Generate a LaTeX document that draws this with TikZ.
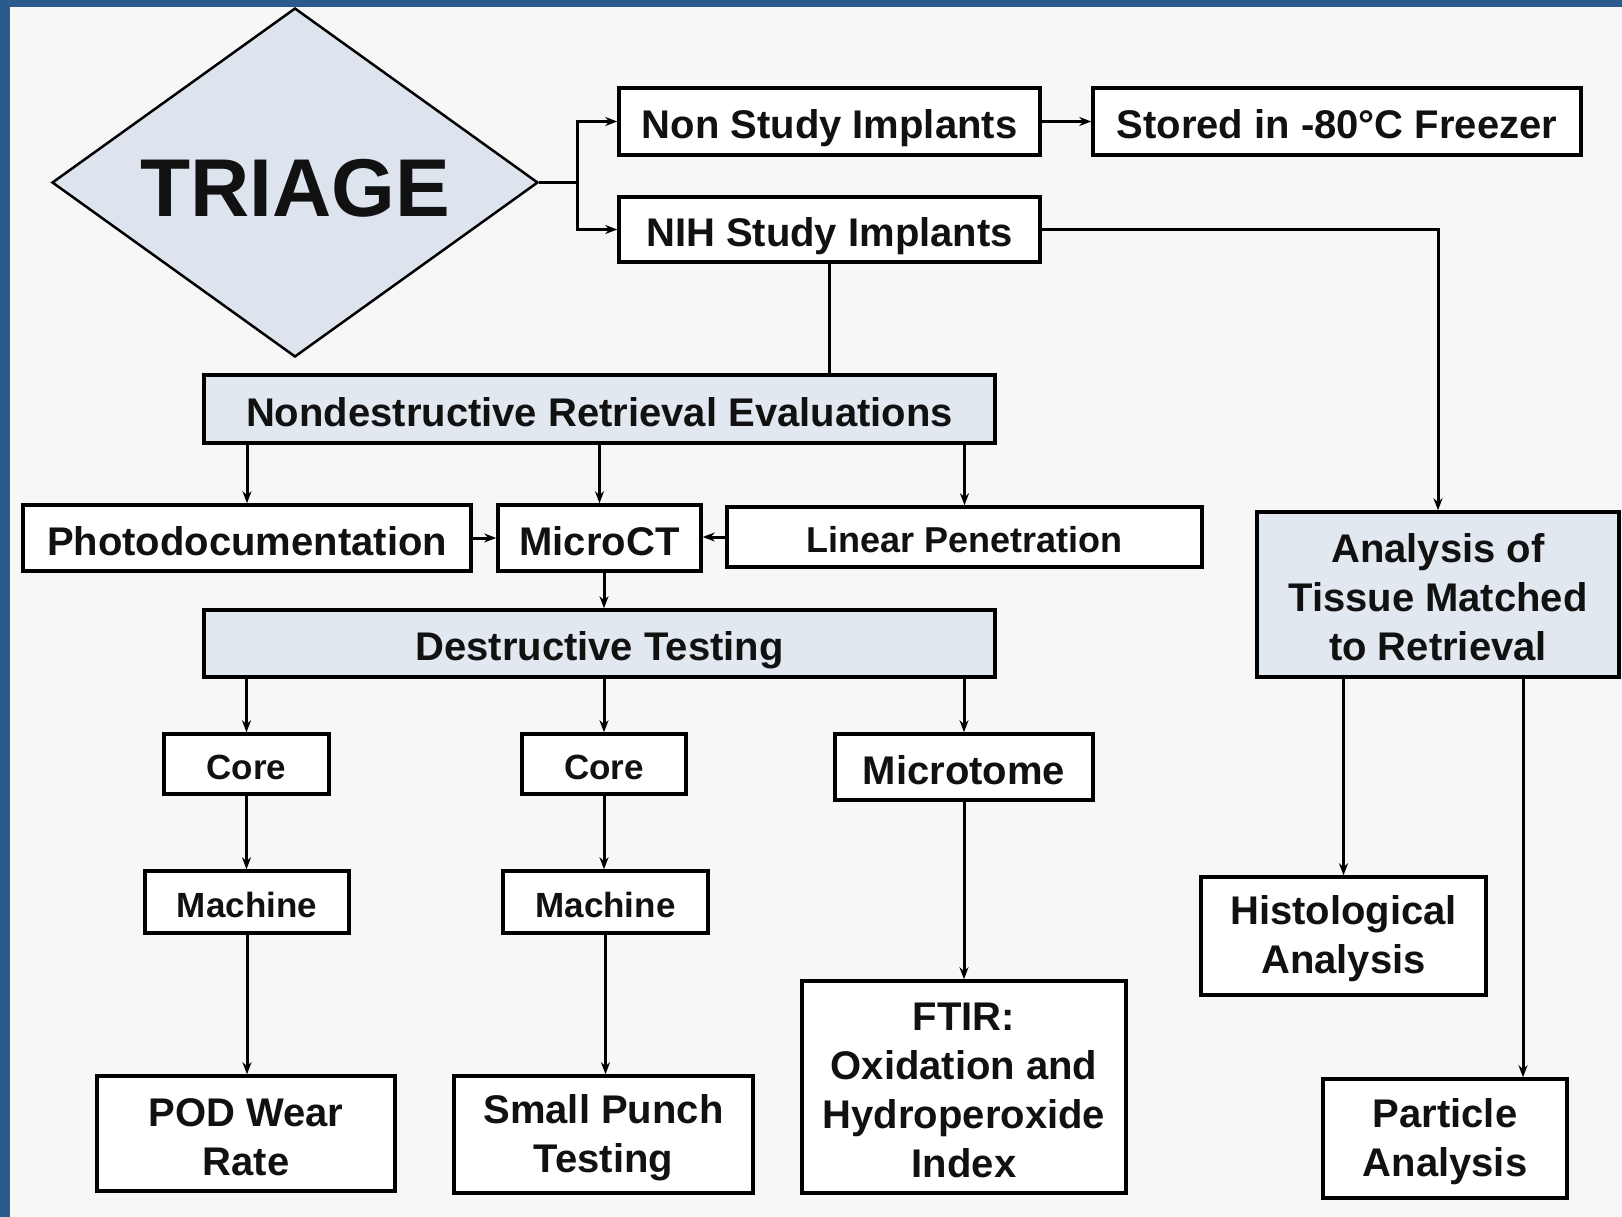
\documentclass[tikz,border=0pt]{standalone}
\usepackage{fontspec}
\setmainfont{Liberation Sans}
\usetikzlibrary{shapes.geometric,arrows.meta}
\definecolor{bgc}{HTML}{F7F7F7}
\definecolor{framec}{HTML}{2B5B8E}
\definecolor{fillb}{HTML}{E2E8F0}
\definecolor{diamc}{HTML}{DDE4EE}
\definecolor{txt}{HTML}{111111}
\newcommand\mystrut{\rule{0pt}{35pt}}
\begin{document}
\begin{tikzpicture}[x=1pt,y=-1pt,
  box/.style={draw=black, line width=3.5pt, fill=white, inner sep=0pt, align=center, text=txt,
    font=\bfseries\fontsize{40}{49}\selectfont},
  one/.style={text height=34.8pt, text depth=0pt},
  shaded/.style={box, fill=fillb},
  smallbox/.style={box, font=\bfseries\fontsize{35}{42}\selectfont, text height=30.5pt, text depth=0pt},
  conn/.style={line width=3pt, draw=black},
  arr/.style={conn, -{Stealth[length=12pt,width=9pt]}}]
\useasboundingbox (0,0) rectangle (1622,1217);
\fill[bgc] (0,0) rectangle (1622,1217);
\fill[framec] (0,0) rectangle (10,1217);
\fill[framec] (0,0) rectangle (1622,7);

\node[diamond, draw=black, line width=2.5pt, fill=diamc, aspect=1.4, inner sep=0pt,
  minimum width=486pt, minimum height=349pt, text=txt, text height=69pt, text depth=0pt,
  font=\bfseries\fontsize{82}{82}\selectfont] (tri) at (295,182.5) {TRIAGE};

\node[box, one, minimum width=421pt, minimum height=67pt] (non) at (829.5,121.5) {Non Study Implants};
\node[box, one, minimum width=488pt, minimum height=67pt] (stored) at (1337,121.5) {Stored in -80°C Freezer};
\node[box, one, minimum width=421pt, minimum height=65pt] (nih) at (829.5,229.5) {NIH Study Implants};
\node[shaded, one, minimum width=791pt, minimum height=68pt] (nde) at (599.5,409) {Nondestructive Retrieval Evaluations};
\node[box, one, minimum width=448pt, minimum height=66pt] (photo) at (247,538) {Photodocumentation};
\node[box, one, minimum width=203pt, minimum height=66pt] (micro) at (599.5,538) {MicroCT};
\node[box, minimum width=475pt, minimum height=60pt, font=\bfseries\fontsize{36}{43}\selectfont,
  text height=31.5pt, text depth=0pt] (linear) at (964.5,537) {Linear Penetration};
\node[shaded, one, minimum width=791pt, minimum height=67pt] (dt) at (599.5,643.5) {Destructive Testing};
\node[smallbox, minimum width=165pt, minimum height=60pt] (core1) at (246.5,764) {Core};
\node[smallbox, minimum width=164pt, minimum height=60pt] (core2) at (604,764) {Core};
\node[box, one, minimum width=258pt, minimum height=66pt] (mtome) at (964,767) {Microtome};
\node[smallbox, minimum width=204pt, minimum height=62pt] (mach1) at (247,902) {Machine};
\node[smallbox, minimum width=205pt, minimum height=62pt] (mach2) at (605.5,902) {Machine};
\node[box, minimum width=298pt, minimum height=115pt] (pod) at (246,1133.5) {\mystrut POD Wear\\Rate};
\node[box, minimum width=299pt, minimum height=117pt] (sp) at (603.5,1134.5) {\mystrut Small Punch\\Testing};
\node[box, minimum width=324pt, minimum height=212pt] (ftir) at (964,1087) {\mystrut FTIR:\\Oxidation and\\Hydroperoxide\\Index};
\node[shaded, minimum width=362pt, minimum height=165pt] (ana) at (1438,594.5) {\mystrut Analysis of\\Tissue Matched\\to Retrieval};
\node[box, minimum width=285pt, minimum height=118pt] (hist) at (1343.5,936) {\mystrut Histological\\Analysis};
\node[box, minimum width=244pt, minimum height=119pt] (part) at (1445,1138.5) {\mystrut Particle\\Analysis};

\coordinate (split) at (577,182.5);
\coordinate (px) at (1523,0);
\draw[conn] (tri.east) -- (split);
\draw[arr] (split) |- (non.west);
\draw[arr] (split) |- (nih.west);
\draw[arr] (non.east) -- (stored.west);
\draw[arr] (nih.east) -| (ana.north);
\draw[conn] (nih.south) -- (nih.south |- nde.north);
\draw[arr] (nde.south -| photo.north) -- (photo.north);
\draw[arr] (nde.south -| micro.north) -- (micro.north);
\draw[arr] (nde.south -| linear.north) -- (linear.north);
\draw[arr] (photo.east) -- (micro.west);
\draw[arr] (linear.west) -- (linear.west -| micro.east);
\draw[arr] (micro.south -| core2.north) -- (core2.north |- dt.north);
\draw[arr] (dt.south -| core1.north) -- (core1.north);
\draw[arr] (dt.south -| core2.north) -- (core2.north);
\draw[arr] (dt.south -| mtome.north) -- (mtome.north);
\draw[arr] (core1.south) -- (core1.south |- mach1.north);
\draw[arr] (mach1.south) -- (mach1.south |- pod.north);
\draw[arr] (core2.south) -- (core2.south |- mach2.north);
\draw[arr] (mach2.south) -- (mach2.south |- sp.north);
\draw[arr] (mtome.south) -- (mtome.south |- ftir.north);
\draw[arr] (ana.south -| hist.north) -- (hist.north);
\draw[arr] (ana.south -| px) -- (px |- part.north);
\end{tikzpicture}
\end{document}
